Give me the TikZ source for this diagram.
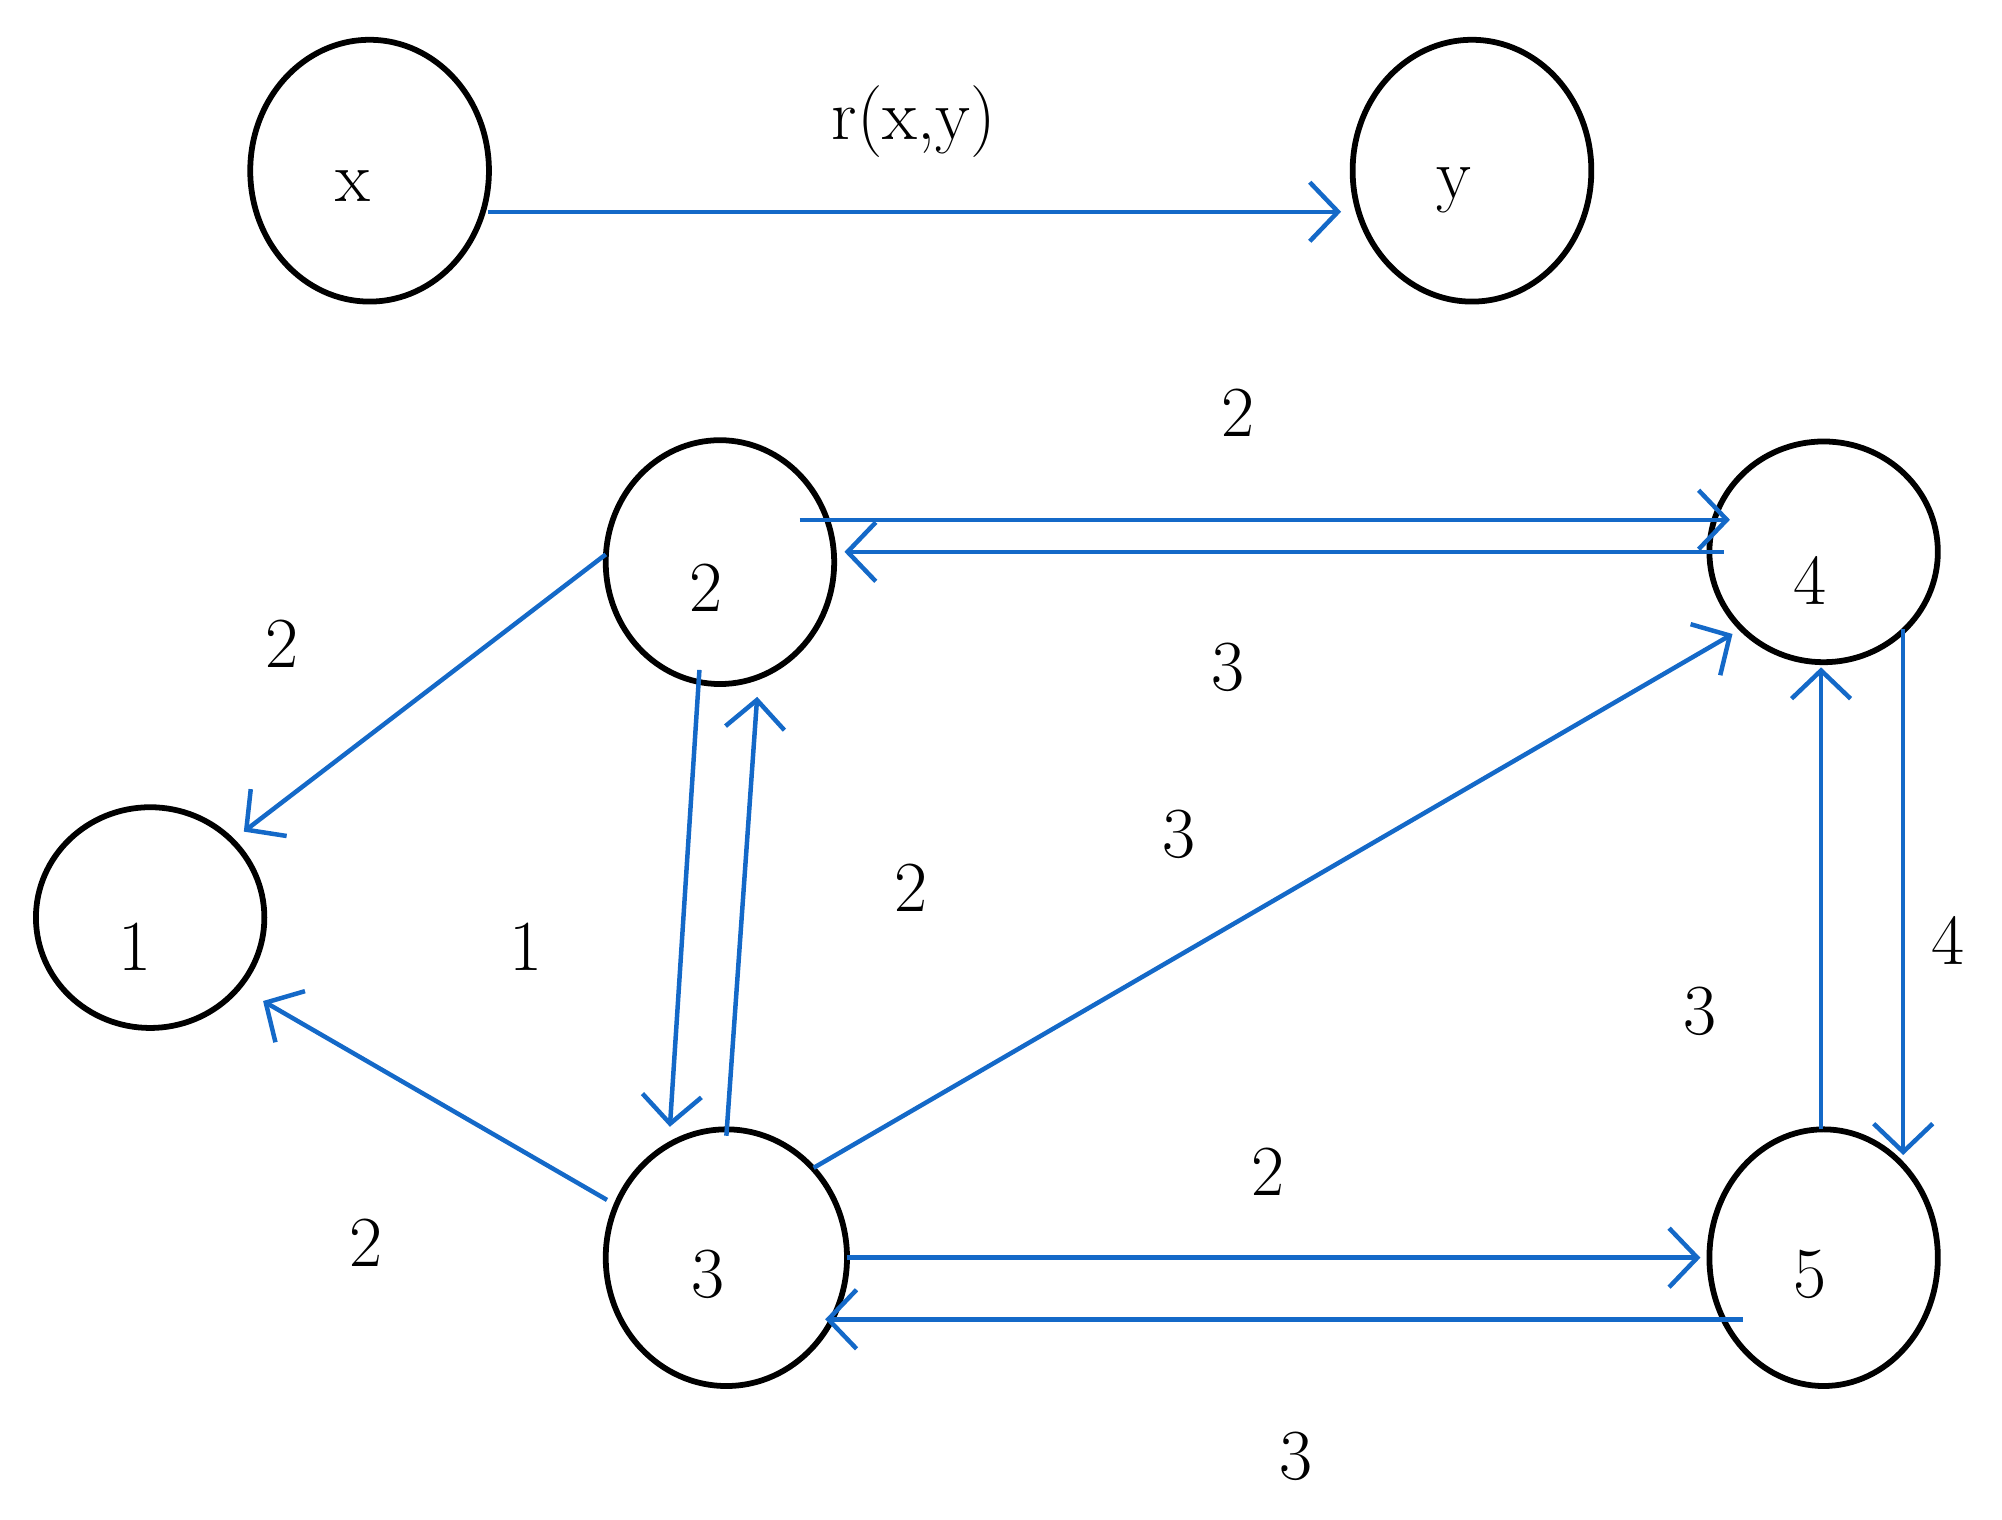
\documentclass[tikz,border=0pt]{standalone}
\usetikzlibrary{shapes.geometric,arrows.meta}
\definecolor{eb}{RGB}{20,105,200}
\begin{document}
\begin{tikzpicture}[x=1pt,y=-1pt,
  nd/.style={draw=black,line width=4.5pt,ellipse,minimum width=#1},
  lab/.style={font=\fontsize{56}{56}\selectfont},
  ed/.style={draw=eb,line width=3.5pt,-{Straight Barb[length=22pt,width=46pt,line width=3.5pt]}}]
\useasboundingbox (0,0) rectangle (1560,1184);
\node[nd=186pt,minimum height=204pt] (x) at (288,133) {};
\node[nd=186pt,minimum height=204pt] (y) at (1147,133) {};
\node[nd=178pt,minimum height=190pt] (n2) at (561,438) {};
\node[nd=178pt,minimum height=172pt] (n4) at (1421,430) {};
\node[nd=178pt,minimum height=172pt] (n1) at (117,715) {};
\node[nd=188pt,minimum height=200pt] (n3) at (566,980) {};
\node[nd=178pt,minimum height=200pt] (n5) at (1421,980) {};
\node[lab] (tx) at (275,145) {x};
\node[lab] (ty) at (1133,148) {y};
\node[lab] (t2) at (550,458) {2};
\node[lab] (t4) at (1410,452) {4};
\node[lab] (t1) at (105,738) {1};
\node[lab] (t3) at (552,993) {3};
\node[lab] (t5) at (1410,993) {5};
\node[lab] (rxy) at (712,95) {r(x,y)};
\foreach \n/\t/\px/\py in {a/2/965/322,b/3/957/520,c/2/220/502,d/1/410/738,e/2/710/692,f/3/919/650,g/2/285/968,h/2/988/913,i/3/1010/1135,j/3/1325/788,k/4/1518/733}
  \node[lab] (w\n) at (\px,\py) {\t};
\coordinate (xs) at (380,165); \coordinate (ye) at (1045,165);
\coordinate (a1) at (623,405); \coordinate (a2) at (1348,405);
\coordinate (b1) at (1343,430); \coordinate (b2) at (658,430);
\coordinate (c1) at (472,432); \coordinate (c2) at (190,648);
\coordinate (d1) at (473,935); \coordinate (d2) at (205,780);
\coordinate (e1) at (545,522); \coordinate (e2) at (522,878);
\coordinate (f1) at (566,885); \coordinate (f2) at (590,543);
\coordinate (g1) at (634,910); \coordinate (g2) at (1350,494);
\coordinate (h1) at (660,980); \coordinate (h2) at (1325,980);
\coordinate (i1) at (1358,1028); \coordinate (i2) at (643,1028);
\coordinate (j1) at (1419,880); \coordinate (j2) at (1419,520);
\coordinate (k1) at (1483,490); \coordinate (k2) at (1483,900);
\foreach \s/\e in {xs/ye,a1/a2,b1/b2,c1/c2,d1/d2,e1/e2,f1/f2,g1/g2,h1/h2,i1/i2,j1/j2,k1/k2}
  \draw[ed] (\s) -- (\e);
\end{tikzpicture}
\end{document}
